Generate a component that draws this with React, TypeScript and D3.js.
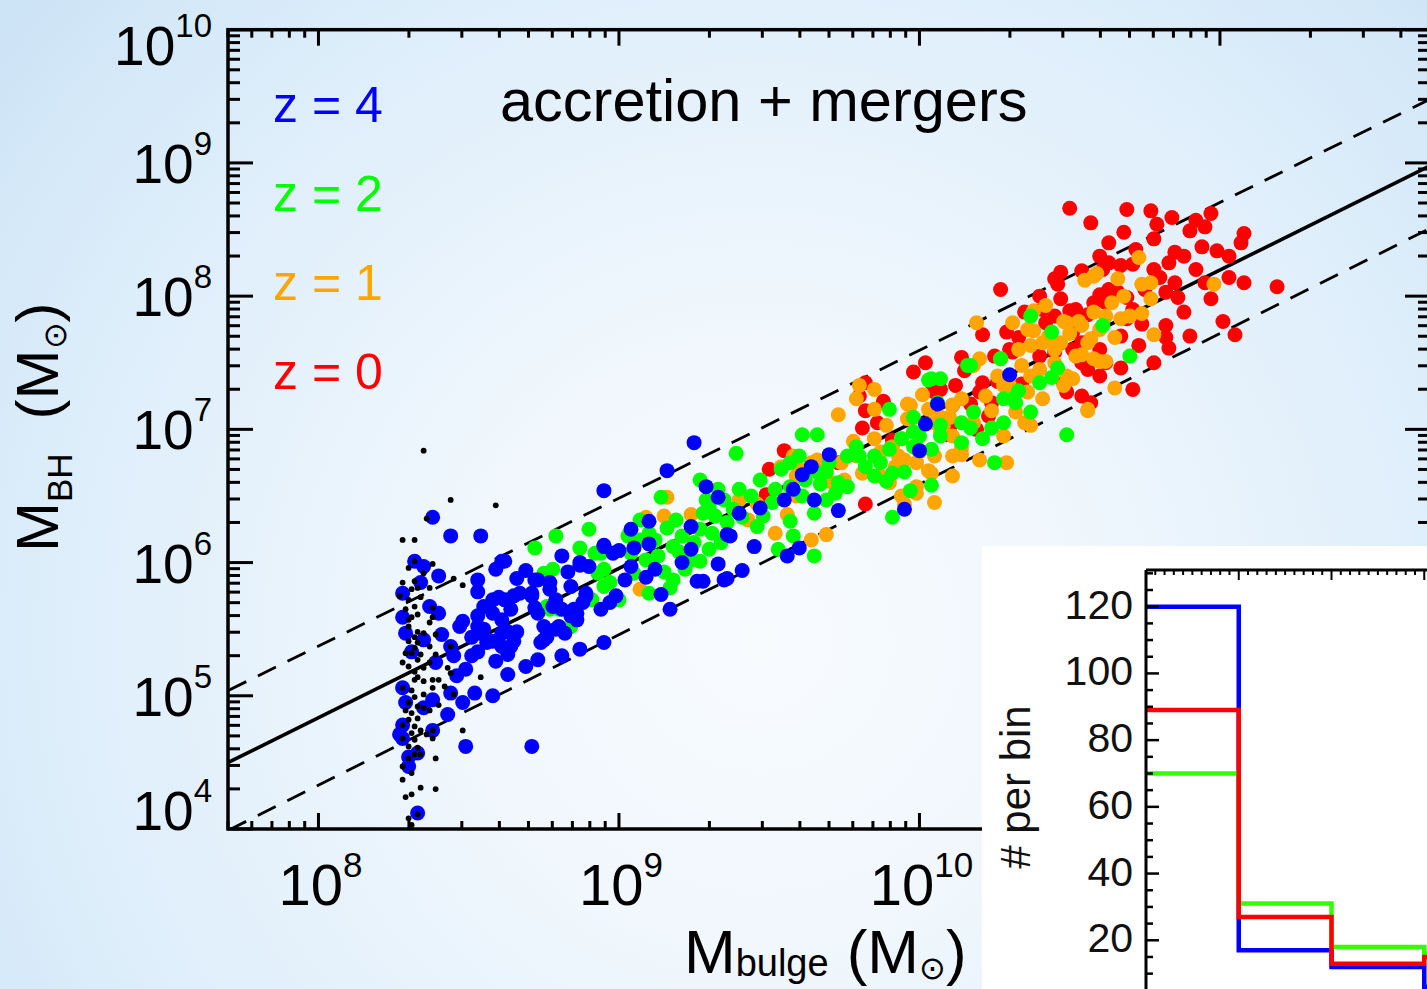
import { useEffect, useRef } from 'react'
import * as d3 from 'd3'

// [log10 Mbulge, log10 MBH]
const pointsZ0 = [
  [10.50,8.66],[10.57,8.55],[10.69,8.65],[10.77,8.64],[10.84,8.59],[10.79,8.54],[10.68,8.48],[10.63,8.40],
  [10.78,8.43],[10.92,8.57],[10.97,8.62],[10.95,8.52],[10.90,8.49],[11.08,8.47],[11.07,8.40],[10.94,8.37],
  [10.99,8.34],[11.03,8.30],[10.85,8.33],[10.83,8.25],[10.63,8.25],[10.67,8.23],[10.71,8.24],[10.61,8.20],
  [10.47,8.18],[10.54,8.19],[10.45,8.13],[10.46,8.09],[10.80,8.14],[10.85,8.10],[10.82,8.03],[10.86,7.99],
  [11.03,8.14],[11.08,8.10],[11.19,8.07],[10.97,7.98],[10.88,7.88],[11.01,7.81],[11.05,7.71],[10.63,8.05],
  [10.66,8.03],[10.60,8.01],[10.69,7.99],[10.62,7.95],[10.71,7.90],[10.69,7.83],[10.74,7.79],[10.67,7.70],
  [10.73,7.63],[10.82,7.78],[10.82,7.69],[10.83,7.61],[10.67,7.46],[10.60,7.40],[10.71,7.30],[10.56,7.45],
  [10.54,7.25],[10.49,7.28],[10.50,7.89],[10.47,7.98],[10.40,8.00],[10.41,7.90],[10.52,7.90],[10.56,7.86],
  [10.54,7.65],[10.51,7.60],[10.60,7.60],[10.51,7.73],[10.33,7.69],[10.31,7.58],[10.29,7.73],[10.27,8.05],
  [10.40,7.55],[10.45,7.58],[10.21,7.71],[9.98,7.43],[10.02,7.50],[10.14,7.54],[10.15,7.44],[10.21,7.35],
  [10.20,7.28],[10.26,7.36],[10.42,7.80],[10.54,7.50],[10.57,7.20],[10.34,7.34],[10.12,7.33],[10.07,7.30],
  [9.82,7.14],[9.86,7.05],[9.88,7.21],[9.82,7.35],[9.80,7.25],[10.11,7.18],[10.17,7.19],[10.24,7.20],
  [10.23,7.10],[10.19,7.00],[9.82,6.44],[10.09,6.96],[9.81,7.01],[9.55,6.84],[9.50,6.70],[9.49,6.51],
  [9.73,6.75],[10.04,7.35],[10.05,7.28],[10.10,7.01],[9.91,6.92],
  [10.60,8.30],[10.72,8.35],[10.88,8.30],[10.92,8.20],[10.95,8.10],[10.78,8.20],[10.75,8.05],[10.58,7.95],
  [10.45,7.85],[10.35,7.88],[10.30,7.60],[10.25,7.55],[10.62,7.50],[10.78,7.50],[10.90,7.70],[10.48,7.35]
]

const pointsZ1 = [
  [10.19,7.80],[10.31,7.80],[10.38,7.89],[10.42,7.93],[10.49,7.80],[10.54,7.78],[10.38,7.74],[10.41,7.65],
  [10.45,7.60],[10.47,7.65],[10.56,7.65],[10.58,7.53],[10.49,7.40],[10.51,7.38],[10.48,7.33],[10.56,7.15],
  [10.41,7.23],[10.34,7.48],[10.37,7.40],[10.36,7.28],[10.32,7.13],[10.37,7.03],[10.28,6.95],[10.30,7.33],
  [10.27,7.53],[10.20,7.53],[10.14,7.23],[10.11,7.18],[10.10,7.09],[10.08,7.03],[10.14,6.86],[10.11,6.80],
  [10.11,6.65],[10.05,6.80],[10.07,6.98],[10.03,7.15],[10.01,7.26],[9.97,7.18],[9.96,7.08],[9.98,6.98],
  [9.94,6.93],[9.99,6.87],[9.91,6.87],[9.89,7.03],[9.85,7.15],[9.80,7.33],[9.85,7.30],[9.79,7.23],
  [9.73,7.11],[9.78,6.91],[9.85,6.93],[9.87,6.83],[9.93,6.80],[9.95,6.77],[9.99,6.75],[10.04,6.67],
  [9.99,6.57],[9.94,6.50],[10.05,6.45],[9.87,6.65],[9.81,6.67],[9.79,6.80],[9.74,6.75],[9.75,6.62],
  [9.70,6.61],[9.67,6.67],[9.64,6.75],[9.66,6.77],[9.60,6.70],[9.59,6.65],[9.58,6.80],[9.54,6.72],
  [9.64,6.17],[9.69,6.21],[9.52,6.22],[9.59,6.50],[9.46,6.44],[9.43,6.32],[9.56,6.36],[9.40,6.47],
  [10.73,8.29],[10.77,8.10],[10.77,7.98],[10.74,8.09],[10.66,8.13],[10.58,8.15],[10.55,8.12],[10.48,7.81],
  [10.53,7.81],[10.58,7.88],[10.62,7.85],[10.67,7.83],[10.70,7.85],[10.74,7.87],[10.78,7.71],[10.65,7.69],
  [10.57,7.68],[10.54,7.56],[10.60,7.51],[10.62,7.51],[10.65,7.31],[10.56,7.14],[10.37,7.63],[10.36,7.75],
  [10.28,7.33],[10.24,7.14],[10.35,7.05],[10.20,6.77],[10.29,6.75],[10.14,6.81],[10.03,6.69],[9.99,6.52],
  [9.95,6.44],[9.90,6.60],[9.96,7.19],[10.07,7.09],[10.11,6.95],[10.18,7.48],[10.98,8.09],[10.59,8.17],
  [9.16,6.49],[9.09,6.34],[9.15,6.35],[9.24,6.36],[9.07,5.80],[9.30,6.40],
  [10.43,7.70],[10.50,7.72],[10.52,7.55],[10.40,7.45],[10.33,7.60],[10.26,7.40],[10.22,7.25],[10.18,7.05],
  [10.05,7.05],[10.00,6.83],[9.92,6.72],[10.45,7.50],[10.60,7.75],[10.64,7.95],[10.68,8.00]
]

const pointsZ2 = [
  [8.72,6.11],[8.79,6.20],[8.90,6.25],[8.87,6.11],[8.78,5.95],[8.94,6.07],[8.95,5.95],[8.77,5.65],
  [8.84,5.52],[8.91,5.72],[8.95,5.82],[9.14,6.49],[8.92,6.07],[8.93,5.92],[8.97,5.85],[9.03,6.20],
  [9.07,6.17],[9.16,6.26],[9.19,6.32],[9.21,6.20],[9.28,6.37],[9.30,6.42],[9.35,6.47],[9.36,6.30],
  [9.34,6.15],[9.30,6.10],[9.27,6.01],[9.18,6.12],[9.15,5.93],[9.18,5.87],[9.10,5.77],[9.17,5.81],
  [9.09,6.02],[9.04,6.07],[8.76,5.67],[8.80,5.65],[8.75,5.92],[9.39,6.82],[9.61,6.96],[9.66,6.96],
  [9.57,6.75],[9.60,6.80],[9.69,6.68],[9.66,6.68],[9.67,6.59],[9.72,6.52],[9.76,6.80],[9.79,6.87],
  [9.80,6.80],[9.82,6.72],[9.85,6.80],[9.87,6.75],[9.90,6.85],[9.94,6.93],[9.98,6.98],[10.00,6.95],
  [9.95,6.68],[9.97,6.54],[9.91,6.34],[10.04,6.85],[10.07,6.95],[9.90,7.15],[9.98,7.09],[10.04,7.38],
  [10.07,7.38],[10.16,7.48],[10.14,7.05],[10.18,7.13],[10.21,6.93],[10.25,6.75],[10.28,7.23],[10.31,7.23],
  [10.33,7.29],[10.37,7.13],[10.40,7.35],[10.44,7.73],[10.37,7.85],[10.46,7.46],[10.49,6.96],[9.27,6.62],
  [9.29,6.47],[9.32,6.35],[9.40,6.55],[9.41,6.34],[9.46,6.27],[9.51,6.45],[9.57,6.31],[9.58,6.20],
  [9.65,6.05],[9.53,6.10],[9.65,6.37],[9.69,6.47],[9.57,6.57],[9.61,6.50],[9.76,6.57],[9.85,6.65],
  [9.89,6.61],[9.98,6.87],[9.91,6.67],[10.03,7.37],[10.17,7.48],[10.27,7.53],[10.61,7.78],[10.70,7.55],
  [10.44,7.39],[10.32,7.20],[10.28,7.05],[10.24,7.01],[10.17,7.01],[10.07,7.03],[10.14,6.90],[10.06,7.20],
  [10.04,6.58],[9.24,6.02],[9.12,6.17],[9.27,6.25],[9.00,5.72],[9.07,6.32],[9.47,6.62],[9.54,6.70],
  [9.20,6.08],[9.25,6.15],[9.31,6.22],[9.22,5.95],[9.13,6.05],[9.38,6.40],[9.44,6.50],[9.48,6.35],
  [9.52,6.55],[9.62,6.62],[9.70,6.75],[9.73,6.60],[9.05,5.92],[9.10,6.22],[9.33,6.55]
]

const pointsZ4 = [
  [8.38,6.34],[8.44,6.20],[8.54,6.20],[8.32,6.01],[8.35,5.97],[8.40,5.90],[8.28,5.77],[8.34,5.85],
  [8.37,5.67],[8.28,5.59],[8.40,5.62],[8.29,5.47],[8.35,5.42],[8.41,5.46],[8.48,5.56],[8.53,5.87],
  [8.53,5.78],[8.59,5.95],[8.61,6.01],[8.66,5.88],[8.69,5.94],[8.72,5.87],[8.67,5.77],[8.64,5.65],
  [8.58,5.72],[8.62,5.72],[8.55,5.67],[8.53,5.60],[8.58,5.62],[8.61,5.57],[8.63,5.48],[8.65,5.41],
  [8.54,5.47],[8.58,5.41],[8.51,5.44],[8.47,5.52],[8.44,5.37],[8.39,5.25],[8.45,5.30],[8.49,5.20],
  [8.53,5.33],[8.46,5.15],[8.44,5.02],[8.48,4.95],[8.52,5.02],[8.43,4.86],[8.38,4.97],[8.35,4.91],
  [8.29,4.95],[8.28,4.78],[8.38,4.74],[8.28,4.68],[8.33,4.57],[8.30,4.54],[8.30,4.47],[8.49,4.62],
  [8.71,4.62],[8.58,5.00],[8.63,5.31],[8.59,5.26],[8.63,5.16],[8.69,5.22],[8.73,5.27],[8.74,5.40],
  [8.75,5.52],[8.79,5.50],[8.81,5.30],[8.87,5.35],[8.95,5.40],[8.77,5.80],[8.79,5.72],[8.81,5.65],
  [8.86,5.62],[8.88,5.70],[8.84,5.82],[8.81,6.05],[8.87,5.98],[8.90,5.97],[8.95,6.12],[8.83,5.93],
  [8.33,4.12],[8.28,5.06],[8.31,5.33],[8.27,4.71],
  [9.25,6.90],[9.16,6.69],[8.95,6.54],[9.29,6.57],[9.33,6.49],[9.10,6.31],[9.04,6.25],[9.24,6.27],
  [9.37,6.20],[8.95,6.13],[9.05,6.11],[9.10,6.14],[9.24,6.10],[8.87,6.00],[8.98,6.07],[9.00,6.09],
  [9.04,5.97],[9.21,6.00],[9.33,5.99],[9.35,5.87],[9.12,5.95],[9.09,5.89],[9.02,5.87],[9.26,5.86],
  [9.14,5.76],[9.17,5.65],[8.99,5.75],[8.97,5.70],[8.89,5.77],[8.85,5.65],[8.86,5.57],[8.82,5.47],
  [8.77,5.85],[8.73,5.87],[8.62,6.01],[8.71,5.75],[8.78,5.67],
  [9.70,6.81],[9.64,6.72],[9.61,6.66],[9.58,6.55],[9.55,6.47],[9.47,6.41],[9.65,6.47],[9.73,6.39],
  [9.40,6.37],[9.36,6.21],[9.45,6.12],[9.60,6.11],[9.56,6.05],[9.36,5.88],[9.41,5.94],[9.28,5.86],
  [9.95,6.40],[10.00,6.84],[10.02,7.04],[10.06,7.19],[10.30,7.41],
  [8.53,5.52],[8.56,5.40],[8.61,5.47],[8.64,5.37],[8.60,5.74],[8.71,5.77],[8.73,5.62],[8.76,5.44],
  [8.80,5.52],[8.84,5.62],[8.51,5.30],[8.55,5.50],[8.61,5.37],[8.66,5.48],[8.75,5.42],[8.72,5.66],
  [8.84,5.60],[8.89,5.75],[8.94,5.65],[8.65,5.75]
]

const pointsSeed = [
  [8.44,6.47],[8.59,6.43],[8.36,6.33],[8.28,6.17],[8.32,6.17],[8.35,6.84],[8.32,6.01],[8.38,5.99],
  [8.30,5.96],[8.35,5.92],[8.45,5.88],[8.28,5.85],[8.32,5.86],[8.48,5.83],[8.31,5.80],[8.33,5.81],
  [8.37,5.81],[8.27,5.75],[8.34,5.74],[8.30,5.72],[8.38,5.66],[8.29,5.65],[8.32,5.67],[8.33,5.61],
  [8.30,5.57],[8.38,5.59],[8.31,5.59],[8.37,5.55],[8.30,5.52],[8.33,5.48],[8.35,5.47],[8.32,5.44],
  [8.39,5.46],[8.30,5.41],[8.33,5.40],[8.37,5.37],[8.44,5.37],[8.32,5.36],[8.29,5.32],[8.31,5.32],
  [8.34,5.31],[8.39,5.31],[8.28,5.25],[8.33,5.27],[8.37,5.25],[8.30,5.22],[8.35,5.21],[8.32,5.18],
  [8.43,5.21],[8.44,5.17],[8.33,5.14],[8.32,5.12],[8.38,5.12],[8.40,5.12],[8.35,5.11],[8.54,5.14],
  [8.42,5.07],[8.28,5.06],[8.31,5.04],[8.38,5.06],[8.35,5.01],[8.45,5.01],[8.32,4.99],[8.30,4.95],
  [8.33,4.92],[8.40,4.93],[8.35,4.91],[8.37,4.89],[8.29,4.89],[8.31,4.87],[8.33,4.83],[8.30,4.82],
  [8.28,4.78],[8.32,4.77],[8.34,4.74],[8.38,4.74],[8.36,4.71],[8.31,4.72],[8.28,4.68],[8.32,4.67],
  [8.38,4.68],[8.48,4.74],[8.33,4.61],[8.30,4.62],[8.32,4.56],[8.34,4.56],[8.39,4.53],[8.30,4.53],
  [8.28,4.47],[8.31,4.42],[8.28,4.37],[8.34,4.31],[8.39,4.30],[8.31,4.26],[8.29,4.24],[8.30,4.08],
  [8.33,4.11],[8.31,4.03]
]

// relation and its envelope, end points [log Mbulge, log MBH]
const relationLine = [[7.70, 4.50], [11.70, 8.98]]
const upperLine = [[7.70, 5.04], [11.70, 9.48]]
const lowerLine = [[7.70, 3.99], [11.70, 8.51]]

const yExponents = [4, 5, 6, 7, 8, 9, 10]
const xExponents = [8, 9, 10]
const legendLabels = ['z = 4', 'z = 2', 'z = 1', 'z = 0']
const legendColors = ['#0000ff', '#00ff00', '#ffa500', '#ff0000']

// inset histogram
const binEdges = [0, 1, 2, 3, 4]
const histBlue = [120, 17, 12, 6]
const histGreen = [70, 31, 18, 16]
const histRed = [89, 27, 13, 15]
const histTicks = [20, 40, 60, 80, 100, 120]

const FONT = 'Liberation Sans, Arial, Helvetica, sans-serif'

const App = () => {
  const chart = useRef<SVGSVGElement>(null)

  useEffect(() => {
    const svg = d3.select(chart.current)
    svg.selectAll('*').remove()

    // background
    const defs = svg.append('defs')
    const grad = defs.append('radialGradient')
      .attr('id', 'bg').attr('gradientUnits', 'userSpaceOnUse')
      .attr('cx', 760).attr('cy', 640).attr('r', 1050)
    grad.append('stop').attr('offset', '0%').attr('stop-color', '#f8fbfe')
    grad.append('stop').attr('offset', '30%').attr('stop-color', '#f0f7fd')
    grad.append('stop').attr('offset', '70%').attr('stop-color', '#dcedfa')
    grad.append('stop').attr('offset', '100%').attr('stop-color', '#c8e1f5')
    svg.append('rect').attr('width', 1427).attr('height', 989).attr('fill', 'url(#bg)')

    const left = 228, right = 1430, top = 29.7, bottom = 829
    const x = d3.scaleLog().domain([5e7, 5e11]).range([left, right])
    const y = d3.scaleLog().domain([1e4, 1e10]).range([bottom, top])

    defs.append('clipPath').attr('id', 'plot')
      .append('rect').attr('x', left).attr('y', top)
      .attr('width', right - left).attr('height', bottom - top)

    const isMajor = (t: number) => Math.abs(Math.log10(t) - Math.round(Math.log10(t))) < 1e-6

    // fit lines
    const line = d3.line<number[]>().x(d => x(10 ** d[0])).y(d => y(10 ** d[1]))
    const lines = svg.append('g').attr('clip-path', 'url(#plot)').attr('fill', 'none').attr('stroke', '#000')
    lines.append('path').attr('d', line(upperLine)).attr('stroke-width', 2.8).attr('stroke-dasharray', '20 13')
    lines.append('path').attr('d', line(lowerLine)).attr('stroke-width', 2.8).attr('stroke-dasharray', '20 13')
    lines.append('path').attr('d', line(relationLine)).attr('stroke-width', 3.6)

    // points
    const dots = svg.append('g').attr('clip-path', 'url(#plot)')
    const drawDots = (pts: number[][], color: string, r: number) => {
      dots.append('g').selectAll('circle')
        .data(pts)
        .enter().append('circle')
        .attr('cx', d => x(10 ** d[0]))
        .attr('cy', d => y(10 ** d[1]))
        .attr('r', r)
        .attr('fill', color)
    }
    drawDots(pointsZ0, '#ff0000', 7.5)
    drawDots(pointsZ1, '#ffa500', 7.5)
    drawDots(pointsZ2, '#00ff00', 7.5)
    drawDots(pointsZ4, '#0000ff', 7.5)
    drawDots(pointsSeed, '#000000', 2.9)

    // frame and ticks
    const axes = svg.append('g').attr('stroke', '#000')
    axes.append('rect').attr('x', left).attr('y', top)
      .attr('width', right - left).attr('height', bottom - top)
      .attr('fill', 'none').attr('stroke-width', 3.5)
    y.ticks().forEach(t => {
      const len = isMajor(t) ? 25 : 12
      axes.append('line').attr('x1', left).attr('x2', left + len).attr('y1', y(t)).attr('y2', y(t)).attr('stroke-width', 3)
      axes.append('line').attr('x1', right).attr('x2', right - len).attr('y1', y(t)).attr('y2', y(t)).attr('stroke-width', 3)
    })
    x.ticks().forEach(t => {
      const len = isMajor(t) ? 16 : 8
      axes.append('line').attr('x1', x(t)).attr('x2', x(t)).attr('y1', bottom).attr('y2', bottom - len).attr('stroke-width', 3)
      axes.append('line').attr('x1', x(t)).attr('x2', x(t)).attr('y1', top).attr('y2', top + len).attr('stroke-width', 3)
    })

    // tick labels
    const labels = svg.append('g').attr('font-family', FONT).attr('fill', '#000')
    yExponents.forEach(e => {
      const base = Math.min(Math.max(y(10 ** e) + 20, 65), 830)
      const t = labels.append('text').attr('x', 212).attr('y', base).attr('text-anchor', 'end')
      t.append('tspan').attr('font-size', 55).text('10')
      t.append('tspan').attr('font-size', 33).attr('dy', -28).text(String(e))
    })
    xExponents.forEach(e => {
      const t = labels.append('text').attr('x', x(10 ** e) + 2).attr('y', 905).attr('text-anchor', 'middle')
      t.append('tspan').attr('font-size', 58).text('10')
      t.append('tspan').attr('font-size', 35).attr('dy', -28).text(String(e))
    })

    // axis titles
    const xt = labels.append('text').attr('x', 684).attr('y', 973)
    xt.append('tspan').attr('font-size', 62).text('M')
    xt.append('tspan').attr('font-size', 38).attr('dy', 3).text('bulge')
    xt.append('tspan').attr('font-size', 62).attr('dy', -3).attr('dx', 18).text('(M')
    xt.append('tspan').attr('font-size', 32).attr('dy', 6).text('\u2299')
    xt.append('tspan').attr('font-size', 62).attr('dy', -6).text(')')

    const yt = labels.append('text').attr('transform', 'translate(58,552) rotate(-90)')
    yt.append('tspan').attr('font-size', 60).text('M')
    yt.append('tspan').attr('font-size', 35).attr('dy', 14).text('BH')
    yt.append('tspan').attr('font-size', 60).attr('dy', -14).attr('dx', 34).text('(M')
    yt.append('tspan').attr('font-size', 32).attr('dy', 8).text('\u2299')
    yt.append('tspan').attr('font-size', 60).attr('dy', -8).text(')')

    // title and legend
    labels.append('text').attr('x', 500).attr('y', 121).attr('font-size', 59.5).text('accretion + mergers')
    legendLabels.forEach((s, i) => {
      labels.append('text').attr('x', 273).attr('y', 122 + i * 89)
        .attr('font-size', 50).attr('fill', legendColors[i]).text(s)
    })

    // inset histogram
    const inset = svg.append('g')
    inset.append('rect').attr('x', 982).attr('y', 546).attr('width', 460).attr('height', 460).attr('fill', '#fff')
    const hx = d3.scaleLinear().domain([0, 4]).range([1146, 1517])
    const hy = d3.scaleLinear().domain([0, 131]).range([1007, 570])

    const step = d3.line<number[]>().x(d => hx(d[0])).y(d => hy(d[1])).curve(d3.curveStepAfter)
    const stepPoints = (vals: number[]) => [
      ...vals.map((v, i) => [binEdges[i], v]),
      [binEdges[vals.length], vals[vals.length - 1]]
    ]
    ;[[histBlue, '#0000ff'], [histGreen, '#33ff00'], [histRed, '#ff0000']].forEach(([vals, c]) => {
      inset.append('path').attr('d', step(stepPoints(vals as number[])))
        .attr('fill', 'none').attr('stroke', c as string).attr('stroke-width', 4.5)
    })

    const hax = inset.append('g').attr('stroke', '#000')
    hax.append('line').attr('x1', 1146).attr('x2', 1146).attr('y1', 570).attr('y2', 989).attr('stroke-width', 3)
    hax.append('line').attr('x1', 1146).attr('x2', 1427).attr('y1', 570).attr('y2', 570).attr('stroke-width', 3)
    d3.range(5, 131, 5).forEach(v => {
      const len = v % 20 === 0 ? 13 : 7
      hax.append('line').attr('x1', 1146).attr('x2', 1146 + len).attr('y1', hy(v)).attr('y2', hy(v)).attr('stroke-width', 2.5)
    })
    d3.range(1, 40).forEach(i => {
      const v = i / 10
      const len = i % 10 === 0 ? 10 : 5
      hax.append('line').attr('x1', hx(v)).attr('x2', hx(v)).attr('y1', 570).attr('y2', 570 + len).attr('stroke-width', 2)
    })
    histTicks.forEach(v => {
      inset.append('text').attr('x', 1133).attr('y', hy(v) + 12).attr('text-anchor', 'end')
        .attr('font-family', FONT).attr('font-size', 41).attr('fill', '#111').text(String(v))
    })
    inset.append('text').attr('transform', 'translate(1030,787) rotate(-90)')
      .attr('text-anchor', 'middle').attr('font-family', FONT).attr('font-size', 42)
      .attr('fill', '#111').text('# per bin')
  }, [])

  return (
    <>
      <style>{'body{margin:0}'}</style>
      <svg ref={chart} width={1427} height={989} style={{ display: 'block' }}></svg>
    </>
  )
}

export default App
